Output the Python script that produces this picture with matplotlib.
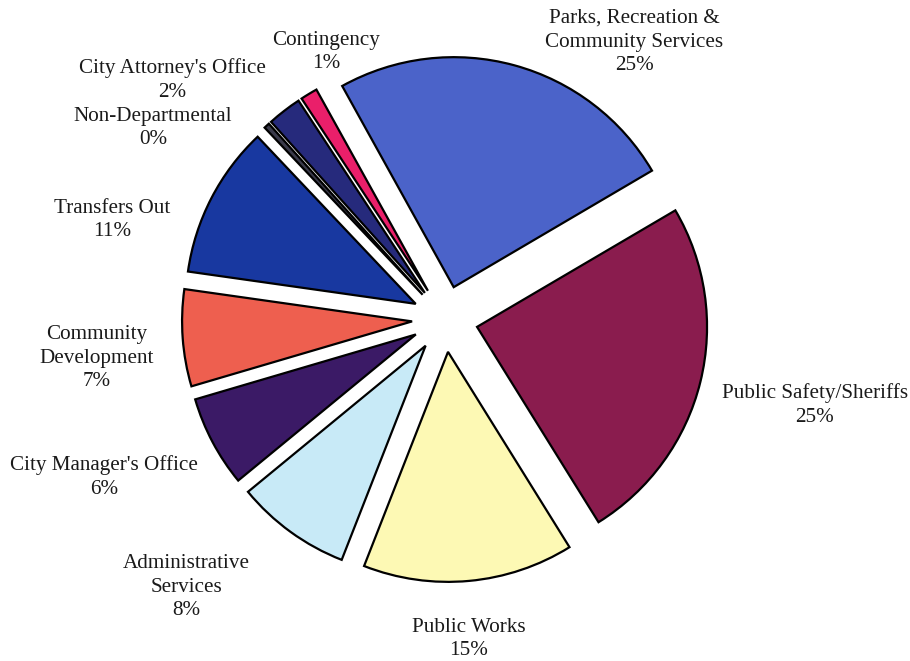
import matplotlib.pyplot as plt

# departmental share of budget (%), clockwise from the top
departments = ["Parks, Recreation &\nCommunity Services", "Public Safety/Sheriffs",
               "Public Works", "Administrative\nServices", "City Manager's Office",
               "Community\nDevelopment", "Transfers Out", "Non-Departmental",
               "City Attorney's Office", "Contingency"]
shares = [24.6, 24.6, 14.8, 8.1, 6.4, 6.8, 10.7, 0.4, 2.4, 1.2]
colors = ["#4b63c9", "#8a1c4e", "#fdf9b4", "#c8eaf7", "#3b1a66",
          "#ee5f4f", "#1838a0", "#3a3a4a", "#262a7c", "#ea1f6a"]

# label centres in pixels (x, y from top)
label_pos = [(634, 42), (815, 405), (469, 639), (186, 587), (104, 477),
             (97, 358), (112, 220), (153, 128), (172, 80), (326, 52)]

W, H = 910, 661
fig = plt.figure(figsize=(W / 100, H / 100), dpi=100)
ax = fig.add_axes([0, 0, 1, 1])

wedges, _ = ax.pie(shares, colors=colors, startangle=119, counterclock=False,
                   center=(445, H - 319), radius=230, explode=[33] * len(shares),
                   wedgeprops=dict(edgecolor="black", linewidth=1.6))

for name, val, (x, y) in zip(departments, shares, label_pos):
    ax.text(x, H - y, f"{name}\n{round(val)}%", ha="center", va="center",
            fontsize=15.2, family="Liberation Serif", color="#1a1a1a",
            linespacing=1.33)

ax.set_xlim(0, W)
ax.set_ylim(0, H)
ax.set_aspect("equal")
ax.axis("off")

fig.savefig("out.png", dpi=100)
